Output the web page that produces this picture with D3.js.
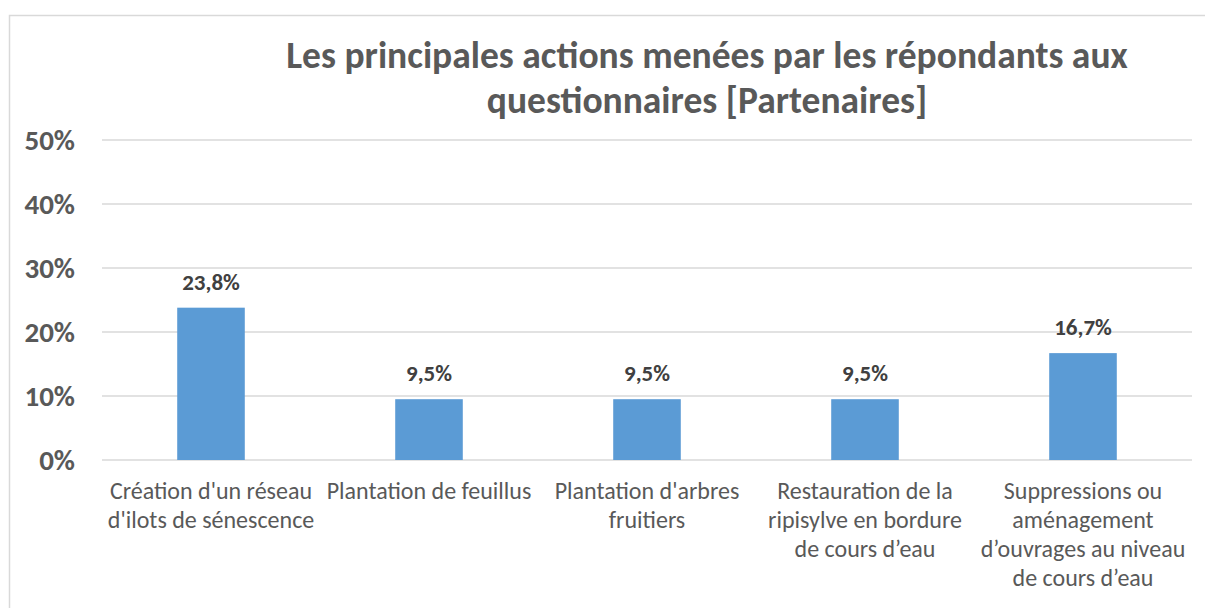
<!DOCTYPE html>
<html>
<head>
<meta charset="utf-8">
<script src="https://cdn.jsdelivr.net/npm/d3@7"></script>
<style>
  body { margin: 0; background: #fff; }
  svg text { font-family: Carlito, Calibri, Lato, sans-serif; }
</style>
</head>
<body>
<div id="container"></div>
<script>
const titleLines = ["Les principales actions menées par les répondants aux", "questionnaires [Partenaires]"];
const categories = [
  ["Création d'un réseau", "d'ilots de sénescence"],
  ["Plantation de feuillus"],
  ["Plantation d'arbres", "fruitiers"],
  ["Restauration de la", "ripisylve en bordure", "de cours d’eau"],
  ["Suppressions ou", "aménagement", "d’ouvrages au niveau", "de cours d’eau"]
];
const values = [23.8, 9.5, 9.5, 9.5, 16.7];
const tickValues = [0, 10, 20, 30, 40, 50];

const w = 1205, h = 608;
const plotLeft = 102, plotRight = 1192, plotTop = 140, plotBottom = 460;

const svg = d3.select("#container")
  .append("svg")
  .attr("width", w)
  .attr("height", h);

// chart border
svg.append("rect")
  .attr("x", 9.5)
  .attr("y", 15.5)
  .attr("width", w)
  .attr("height", h)
  .attr("fill", "none")
  .attr("stroke", "#d9d9d9")
  .attr("stroke-width", 1.5);

const x = d3.scaleBand()
  .domain(d3.range(categories.length))
  .range([plotLeft, plotRight])
  .paddingInner(0.69)
  .paddingOuter(0.345);

const y = d3.scaleLinear()
  .domain([0, 50])
  .range([plotBottom, plotTop]);

// gridlines
svg.append("g")
  .selectAll("line")
  .data(tickValues)
  .join("line")
  .attr("x1", plotLeft)
  .attr("x2", plotRight)
  .attr("y1", d => y(d))
  .attr("y2", d => y(d))
  .attr("stroke", "#d9d9d9")
  .attr("stroke-width", 1.5);

// y tick labels
svg.append("g")
  .selectAll("text")
  .data(tickValues)
  .join("text")
  .attr("x", 75)
  .attr("y", d => y(d) + 10)
  .attr("text-anchor", "end")
  .style("font-size", "29px")
  .style("font-weight", "bold")
  .attr("fill", "#595959")
  .text(d => d + "%");

// bars
svg.append("g")
  .selectAll("rect")
  .data(values)
  .join("rect")
  .attr("x", (d, i) => x(i))
  .attr("y", d => y(d))
  .attr("width", x.bandwidth())
  .attr("height", d => y(0) - y(d))
  .attr("fill", "#5b9bd5");

// value labels
svg.append("g")
  .selectAll("text")
  .data(values)
  .join("text")
  .attr("x", (d, i) => x(i) + x.bandwidth() / 2)
  .attr("y", d => y(d) - 18)
  .attr("text-anchor", "middle")
  .style("font-size", "23px")
  .style("font-weight", "bold")
  .attr("fill", "#404040")
  .text(d => d.toFixed(1).replace(".", ",") + "%");

// category labels
const catG = svg.append("g")
  .selectAll("text")
  .data(categories)
  .join("text")
  .attr("text-anchor", "middle")
  .style("font-size", "24px")
  .attr("fill", "#595959");

catG.selectAll("tspan")
  .data((d, i) => d.map(line => ({ line, i })))
  .join("tspan")
  .attr("x", d => x(d.i) + x.bandwidth() / 2)
  .attr("y", (d, j) => 499 + j * 29)
  .text(d => d.line);

// title
svg.append("text")
  .attr("text-anchor", "middle")
  .style("font-size", "37.5px")
  .style("font-weight", "bold")
  .attr("fill", "#595959")
  .selectAll("tspan")
  .data(titleLines)
  .join("tspan")
  .attr("x", 707)
  .attr("y", (d, i) => 68 + i * 45)
  .text(d => d);
</script>
</body>
</html>
